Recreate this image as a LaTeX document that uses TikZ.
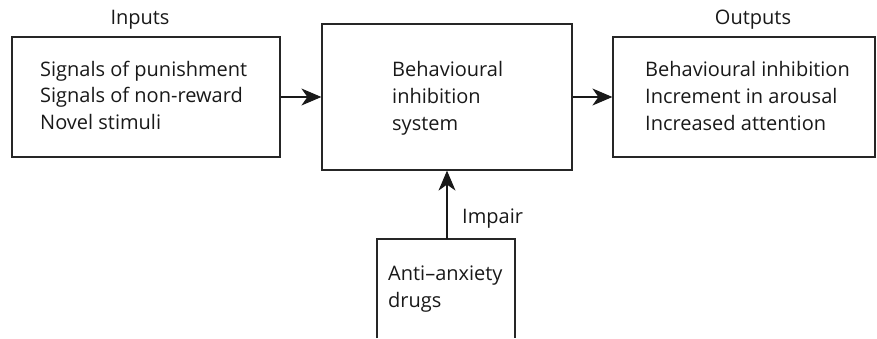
\documentclass[tikz,border=0pt]{standalone}
\usepackage{fontspec}
\setmainfont{Open Sans}
\usetikzlibrary{arrows.meta}
\begin{document}
\begin{tikzpicture}[x=1pt,y=1pt,
  boxline/.style={draw=black!85, line width=1.2pt},
  txt/.style={inner sep=0pt, anchor=base west, align=left, font=\fontsize{20}{26.5}\selectfont, text=black!90},
  lbl/.style={inner sep=0pt, anchor=base, font=\fontsize{20}{26.5}\selectfont, text=black!90},
  conn/.style={draw=black!90, line width=1.2pt, -{Stealth[length=20pt,width=17pt,inset=6pt]}}]
\useasboundingbox (0,0) rectangle (877,338);
% boxes
\node[boxline, minimum width=268pt, minimum height=120pt, inner sep=0pt] (inp) at (146,241) {};
\node[boxline, minimum width=250pt, minimum height=146pt, inner sep=0pt] (bis) at (447,241) {};
\node[boxline, minimum width=262pt, minimum height=120pt, inner sep=0pt] (out) at (744,241) {};
% open bottom box
\coordinate (dl) at (377,0);
\coordinate (dr) at (515,0);
\coordinate (dtop) at (447,99);
\draw[boxline] (dl) -- (377,99) -- (515,99) -- (dr);
% texts (base anchor = baseline of last line)
\node[txt] (inptxt) at (40,209) {Signals of punishment\\Signals of non-reward\\Novel stimuli};
\node[txt] (bistxt) at (392,208) {Behavioural\\inhibition\\system};
\node[txt] (outtxt) at (645,208) {Behavioural inhibition\\Increment in arousal\\Increased attention};
\node[txt] (drugtxt) at (388,31) {Anti–anxiety\\drugs};
\node[lbl] (inlbl) at (140,313) {Inputs};
\node[lbl] (outlbl) at (753,313) {Outputs};
\node[txt] (impair) at (462,115) {Impair};
% connectors
\draw[conn] (inp.east) -- (bis.west);
\draw[conn] (bis.east) -- (out.west);
\draw[conn] (dtop) -- (bis.south);
\end{tikzpicture}
\end{document}
